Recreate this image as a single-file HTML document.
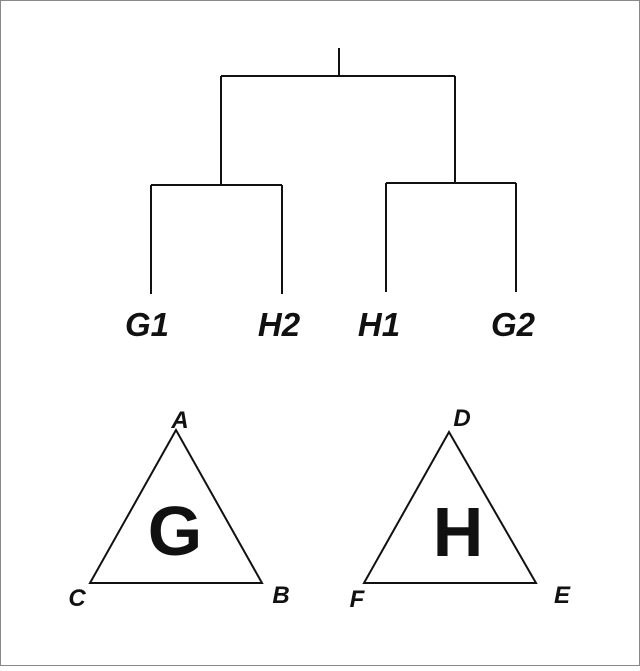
<!DOCTYPE html>
<html><head><style>html,body{margin:0;padding:0;background:#fff}</style></head>
<body>
<svg width="640" height="666" viewBox="0 0 640 666" xmlns="http://www.w3.org/2000/svg">
<rect x="0.5" y="0.5" width="639" height="665" fill="#fff" stroke="#888" stroke-width="1"/>
<g stroke="#111" stroke-width="2" fill="none">
<path d="M339 48V76M221 76H455M221 76V185M151 185H282M151 185V294M282 185V294M455 76V183M386 183H516M386 183V292M516 183V292"/>
<polygon points="176,430 90,583 262,583"/>
<polygon points="449,432 364,583 536,583"/>
</g>
<g font-family="Liberation Sans, sans-serif" font-weight="bold" font-style="italic" fill="#111" text-anchor="middle">
<text x="147" y="336" font-size="33">G1</text>
<text x="279" y="336" font-size="33">H2</text>
<text x="379" y="336" font-size="33">H1</text>
<text x="513" y="336" font-size="33">G2</text>
<text x="180" y="428" font-size="24">A</text>
<text x="77" y="606" font-size="24">C</text>
<text x="281" y="603" font-size="24">B</text>
<text x="462" y="426" font-size="24">D</text>
<text x="357" y="607" font-size="24">F</text>
<text x="562" y="603" font-size="24">E</text>
</g>
<g font-family="Liberation Sans, sans-serif" font-weight="bold" fill="#111" text-anchor="middle">
<text x="175" y="555" font-size="70">G</text>
<text x="458" y="556" font-size="70">H</text>
</g>
</svg>
</body></html>
